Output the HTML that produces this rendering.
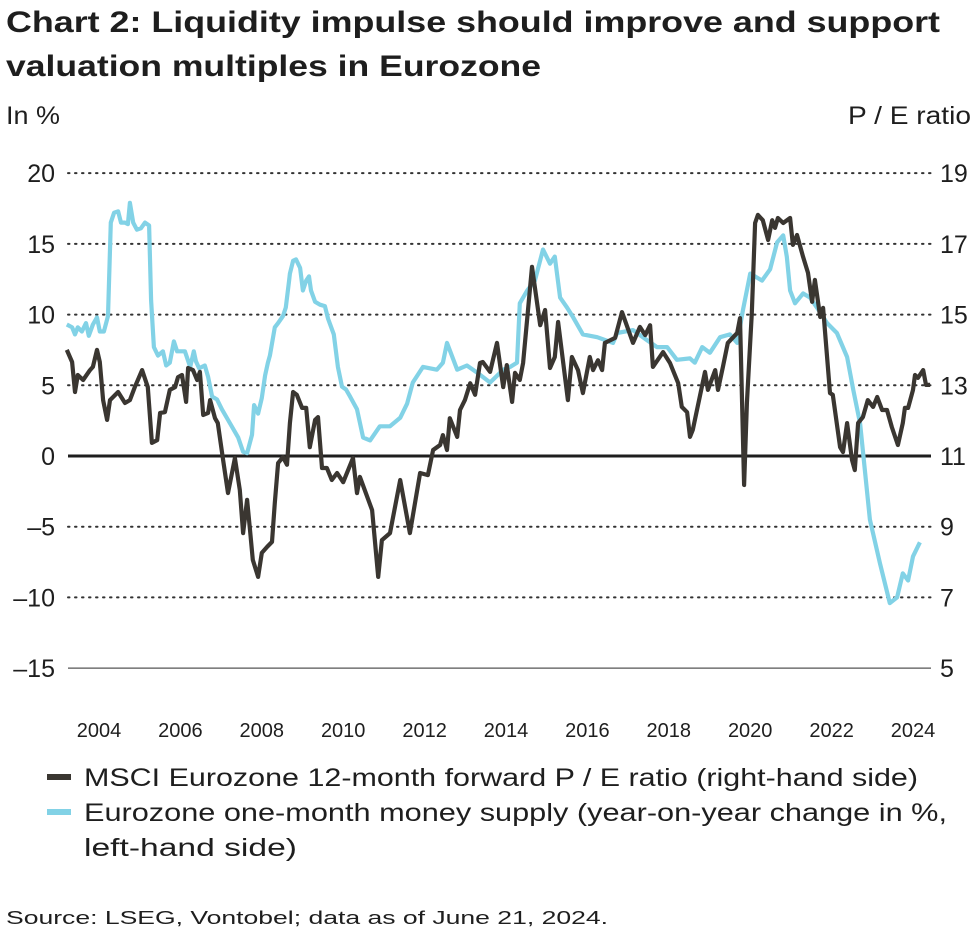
<!DOCTYPE html>
<html><head><meta charset="utf-8">
<style>
body{margin:0;background:#fff;}
svg text{font-family:"Liberation Sans",sans-serif;fill:#1e1e1e;}
</style></head>
<body>
<svg id="chart" width="977" height="936" viewBox="0 0 977 936" xmlns="http://www.w3.org/2000/svg">
<text x="6" y="32" font-size="30" font-weight="bold" textLength="934" lengthAdjust="spacingAndGlyphs">Chart 2: Liquidity impulse should improve and support</text>
<text x="6" y="76" font-size="30" font-weight="bold" textLength="535" lengthAdjust="spacingAndGlyphs">valuation multiples in Eurozone</text>
<text x="6" y="124" font-size="25" textLength="54" lengthAdjust="spacingAndGlyphs">In %</text>
<text x="848" y="124" font-size="25" textLength="123" lengthAdjust="spacingAndGlyphs">P / E ratio</text>
<g id="grid"></g>
<g id="series"></g>
<g>
<line x1="47" y1="777" x2="71" y2="777" stroke="#3a3631" stroke-width="6"/>
<text x="84" y="786" font-size="25" textLength="834" lengthAdjust="spacingAndGlyphs">MSCI Eurozone 12-month forward P / E ratio (right-hand side)</text>
<line x1="47" y1="812" x2="71" y2="812" stroke="#82d2e6" stroke-width="6"/>
<text x="84" y="821" font-size="25" textLength="863" lengthAdjust="spacingAndGlyphs">Eurozone one-month money supply (year-on-year change in %,</text>
<text x="84" y="856" font-size="25" textLength="213" lengthAdjust="spacingAndGlyphs">left-hand side)</text>
</g>
<text x="6" y="924" font-size="18" textLength="602" lengthAdjust="spacingAndGlyphs">Source: LSEG, Vontobel; data as of June 21, 2024.</text>
</svg>
<script>
const leftTicks=[20,15,10,5,0,-5,-10,-15];
const rightTicks=[19,17,15,13,11,9,7,5];
const yearTicks=[2004,2006,2008,2010,2012,2014,2016,2018,2020,2022,2024];
const m1Dates=[2003.21,2003.34,2003.41,2003.48,2003.58,2003.68,2003.75,2003.85,2003.95,2004.02,2004.12,2004.22,2004.29,2004.37,2004.47,2004.54,2004.64,2004.71,2004.76,2004.84,2004.93,2005.03,2005.13,2005.23,2005.28,2005.35,2005.45,2005.57,2005.65,2005.74,2005.84,2005.92,2006.01,2006.11,2006.24,2006.33,2006.38,2006.46,2006.60,2006.68,2006.78,2006.90,2007.02,2007.22,2007.42,2007.54,2007.64,2007.76,2007.81,2007.91,2008.00,2008.08,2008.15,2008.20,2008.32,2008.40,2008.52,2008.59,2008.67,2008.69,2008.77,2008.84,2008.94,2009.01,2009.09,2009.16,2009.21,2009.31,2009.43,2009.55,2009.63,2009.77,2009.87,2009.97,2010.07,2010.17,2010.34,2010.49,2010.66,2010.90,2011.15,2011.40,2011.57,2011.71,2011.96,2012.30,2012.45,2012.55,2012.80,2013.04,2013.29,2013.61,2013.93,2014.10,2014.27,2014.34,2014.52,2014.71,2014.91,2015.08,2015.20,2015.33,2015.50,2015.65,2015.89,2016.24,2016.63,2016.73,2017.12,2017.46,2017.71,2017.96,2018.20,2018.52,2018.64,2018.82,2019.01,2019.26,2019.50,2019.68,2019.82,2020.00,2020.29,2020.49,2020.66,2020.81,2020.90,2020.98,2021.10,2021.30,2021.47,2021.64,2021.89,2022.13,2022.38,2022.53,2022.70,2022.94,2023.19,2023.43,2023.61,2023.75,2023.88,2024.00,2024.17];
const m1Values=[9.3,9.1,8.6,9.1,8.8,9.4,8.5,9.3,9.8,8.8,8.8,9.9,16.5,17.2,17.3,16.5,16.5,16.4,17.9,16.5,16.0,16.1,16.5,16.3,11.0,7.7,7.1,7.4,6.4,6.6,8.1,7.4,7.4,7.4,6.3,7.4,6.7,6.2,6.4,5.6,4.2,4.0,3.3,2.3,1.3,0.3,0.2,1.5,3.6,3.0,4.1,5.7,6.6,7.1,9.1,9.4,9.9,10.5,12.4,12.9,13.8,13.9,13.3,11.7,12.4,12.7,11.7,10.9,10.7,10.6,9.7,8.6,6.3,4.9,4.7,4.2,3.3,1.3,1.1,2.1,2.1,2.7,3.7,5.2,6.3,6.1,6.6,8.0,6.1,6.4,5.9,5.2,6.1,6.3,6.6,10.8,11.7,12.4,14.6,13.6,14.1,11.2,10.5,9.8,8.6,8.4,8.0,8.7,8.9,8.2,7.7,7.7,6.8,6.9,6.6,7.7,7.3,8.4,8.6,8.0,10.3,12.9,12.4,13.2,15.1,15.6,14.1,11.7,10.8,11.5,11.2,10.5,9.4,8.7,7.0,4.7,2.3,-4.5,-7.6,-10.4,-10.0,-8.3,-8.8,-7.1,-6.1];
const peDates=[2003.21,2003.34,2003.41,2003.48,2003.61,2003.78,2003.85,2003.95,2004.02,2004.10,2004.20,2004.27,2004.47,2004.64,2004.76,2004.88,2005.06,2005.20,2005.30,2005.43,2005.50,2005.62,2005.74,2005.87,2005.94,2006.04,2006.14,2006.19,2006.31,2006.41,2006.48,2006.56,2006.68,2006.73,2006.85,2006.92,2007.05,2007.17,2007.34,2007.46,2007.54,2007.64,2007.71,2007.78,2007.91,2008.00,2008.13,2008.25,2008.32,2008.40,2008.52,2008.62,2008.69,2008.77,2008.86,2008.99,2009.09,2009.18,2009.31,2009.38,2009.48,2009.60,2009.72,2009.85,2010.00,2010.24,2010.34,2010.41,2010.71,2010.86,2010.95,2011.15,2011.40,2011.64,2011.89,2012.08,2012.21,2012.38,2012.45,2012.55,2012.62,2012.80,2012.87,2012.99,2013.12,2013.24,2013.36,2013.43,2013.61,2013.78,2013.93,2014.02,2014.15,2014.22,2014.34,2014.42,2014.64,2014.84,2014.96,2015.08,2015.20,2015.28,2015.52,2015.62,2015.77,2015.89,2016.06,2016.14,2016.26,2016.36,2016.43,2016.68,2016.85,2017.12,2017.29,2017.42,2017.54,2017.61,2017.86,2018.03,2018.23,2018.32,2018.45,2018.52,2018.59,2018.89,2018.96,2019.14,2019.21,2019.33,2019.45,2019.68,2019.75,2019.85,2019.92,2020.04,2020.12,2020.19,2020.31,2020.44,2020.54,2020.61,2020.68,2020.81,2020.98,2021.05,2021.15,2021.30,2021.42,2021.52,2021.59,2021.72,2021.79,2021.96,2022.03,2022.21,2022.28,2022.38,2022.50,2022.57,2022.65,2022.77,2022.89,2023.02,2023.12,2023.24,2023.36,2023.48,2023.63,2023.75,2023.80,2023.88,2024.00,2024.05,2024.12,2024.25,2024.32,2024.42];
const peValues=[14.0,13.66,12.81,13.29,13.15,13.43,13.52,14.0,13.66,12.58,12.02,12.58,12.81,12.50,12.58,12.95,13.43,12.95,11.37,11.45,12.22,12.24,12.87,12.95,13.23,13.29,12.53,13.49,13.43,13.15,13.38,12.16,12.22,12.58,12.07,11.93,10.89,9.95,10.94,10.04,8.82,9.76,8.91,8.06,7.58,8.26,8.43,8.57,9.67,10.80,10.97,10.75,11.93,12.81,12.73,12.36,12.36,11.25,12.02,12.10,10.66,10.66,10.32,10.52,10.26,10.94,9.95,10.41,9.47,7.58,8.62,8.82,10.32,8.82,10.52,10.46,11.17,11.31,11.59,11.17,12.07,11.54,12.30,12.58,13.06,12.73,13.63,13.66,13.38,14.20,12.95,13.57,12.53,13.35,13.15,13.63,16.35,14.70,15.13,13.49,13.80,14.79,12.58,13.80,13.43,12.78,13.80,13.43,13.71,13.43,14.20,14.34,15.07,14.20,14.65,14.42,14.70,13.52,13.94,13.63,13.06,12.39,12.24,11.54,11.74,13.38,12.87,13.43,12.87,13.52,14.20,14.48,14.90,10.18,12.50,15.04,17.59,17.82,17.67,17.11,17.67,17.45,17.73,17.59,17.73,16.97,17.25,16.63,16.18,15.36,15.98,14.93,15.19,12.78,12.73,11.25,11.11,11.93,10.89,10.60,11.93,12.10,12.58,12.39,12.67,12.30,12.30,11.82,11.31,11.93,12.36,12.36,12.87,13.29,13.21,13.43,13.01,13.01];

const NS='http://www.w3.org/2000/svg';
const X0=68,X1=931;
function xScale(yr){return 99+(yr-2004)*40.7;}
function yLeft(v){return 456-v*14.143;}
function yRight(v){return 456-(v-11)*35.357;}
function mk(tag,attrs,parent){const e=document.createElementNS(NS,tag);for(const k in attrs)e.setAttribute(k,attrs[k]);parent.appendChild(e);return e;}
const grid=document.getElementById('grid');
leftTicks.forEach((t,i)=>{
  const y=yLeft(t);
  let ln;
  if(t===0){ln=mk('line',{x1:X0,x2:X1,y1:y,y2:y,stroke:'#1e1e1e','stroke-width':3},grid);}
  else if(t===-15){ln=mk('line',{x1:X0,x2:X1,y1:y,y2:y,stroke:'#555','stroke-width':1.2},grid);}
  else{ln=mk('line',{x1:X0,x2:X1,y1:y,y2:y,stroke:'#333','stroke-width':2,'stroke-dasharray':'1.5 5.5','stroke-linecap':'round'},grid);}
  
  
  const tl=mk('text',{x:55,y:y+9,'font-size':25,'text-anchor':'end'},grid);
  tl.textContent=t<0?'\u2013'+Math.abs(t):String(t);
  
  
  const tr=mk('text',{x:940,y:y+9,'font-size':25},grid);
  tr.textContent=String(rightTicks[i]);
  
  
});
yearTicks.forEach(yr=>{
  const t=mk('text',{x:xScale(yr),y:737,'font-size':20,'text-anchor':'middle'},grid);
  t.textContent=String(yr);
  
  
});
const series=document.getElementById('series');
function path(dates,vals,ys){return dates.map((d,i)=>(i?'L':'M')+xScale(d).toFixed(1)+' '+ys(vals[i]).toFixed(1)).join(' ');}
const m1=mk('path',{d:path(m1Dates,m1Values,yLeft),fill:'none',stroke:'#82d2e6','stroke-width':4.2,'stroke-linejoin':'round'},series);


const pe=mk('path',{d:path(peDates,peValues,yRight),fill:'none',stroke:'#3a3631','stroke-width':4.2,'stroke-linejoin':'round'},series);


</script>
</body></html>
